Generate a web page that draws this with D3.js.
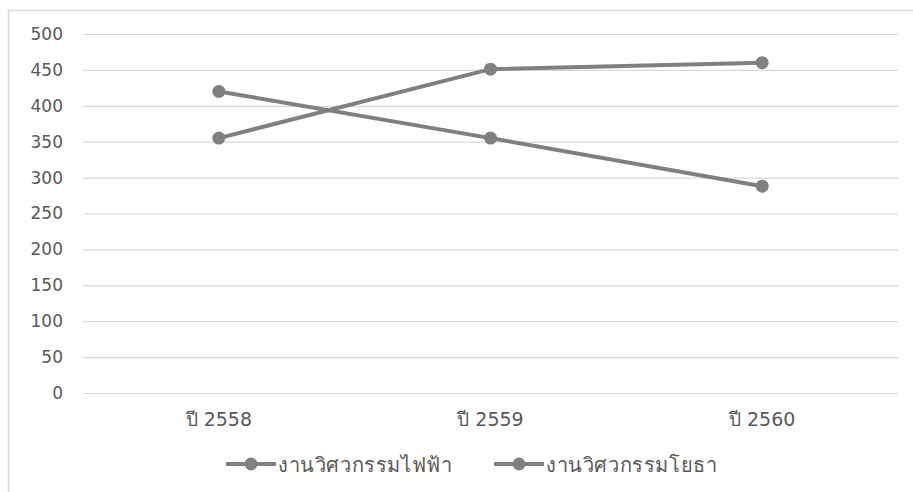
<!DOCTYPE html>
<html>
<head>
<meta charset="utf-8">
<script src="https://cdn.jsdelivr.net/npm/d3@7"></script>
<style>
  html, body { margin: 0; padding: 0; background: #fff; }
  svg { display: block; }
  text { font-family: "DejaVu Sans", "Noto Sans", sans-serif; fill: #595959; }
</style>
</head>
<body>
<svg id="chart" width="913" height="492"></svg>
<script>
// Chart data
const categories = ["ปี 2558", "ปี 2559", "ปี 2560"];
const seriesNames = ["งานวิศวกรรมไฟฟ้า", "งานวิศวกรรมโยธา"];
const electricalValues = [420, 355, 288];
const civilValues = [355, 451, 460];
const yTicks = [0, 50, 100, 150, 200, 250, 300, 350, 400, 450, 500];

const series = [
  { name: seriesNames[0], values: electricalValues },
  { name: seriesNames[1], values: civilValues }
];

const svg = d3.select("#chart");
const plot = { left: 83, right: 898, top: 34, bottom: 393 };
const lineColor = "#808080";
const fontStack = "'DejaVu Sans', 'Noto Sans', sans-serif";

// Outer chart frame (continues past the right and bottom edges)
svg.append("rect")
  .attr("x", 8.5).attr("y", 10.5)
  .attr("width", 1200).attr("height", 1200)
  .attr("fill", "none").attr("stroke", "#d9d9d9").attr("stroke-width", 1.5);

const x = d3.scaleBand().domain(categories).range([plot.left, plot.right]);
const y = d3.scaleLinear().domain([0, 500]).range([plot.bottom, plot.top]);

// Gridlines and y labels
const yAxis = d3.axisLeft(y).tickValues(yTicks).tickSize(-(plot.right - plot.left)).tickPadding(20);
const gy = svg.append("g").attr("transform", `translate(${plot.left},0)`).call(yAxis);
gy.select(".domain").remove();
gy.selectAll(".tick line").attr("stroke", "#d9d9d9").attr("stroke-width", 1.2);
gy.selectAll(".tick text")
  .attr("font-size", 17).attr("fill", "#595959")
  .style("font-family", fontStack);

// Category labels
const xAxis = d3.axisBottom(x).tickSize(0).tickPadding(20);
const gx = svg.append("g").attr("transform", `translate(0,${plot.bottom})`).call(xAxis);
gx.select(".domain").remove();
gx.selectAll(".tick text")
  .attr("font-size", 19).attr("fill", "#595959")
  .style("font-family", fontStack);

// Series lines with markers
const line = d3.line()
  .x((d, i) => x(categories[i]) + x.bandwidth() / 2)
  .y(d => y(d));

series.forEach(s => {
  svg.append("path")
    .attr("d", line(s.values))
    .attr("fill", "none")
    .attr("stroke", lineColor)
    .attr("stroke-width", 4)
    .attr("stroke-linejoin", "round");
  svg.selectAll(null)
    .data(s.values)
    .enter().append("circle")
    .attr("cx", (d, i) => x(categories[i]) + x.bandwidth() / 2)
    .attr("cy", d => y(d))
    .attr("r", 6.5)
    .attr("fill", lineColor);
});

// Legend
const legendY = 464;
const legendStarts = [226, 494];
series.forEach((s, i) => {
  const g = svg.append("g").attr("transform", `translate(${legendStarts[i]},${legendY})`);
  g.append("line").attr("x1", 0).attr("x2", 50).attr("y1", 0).attr("y2", 0)
    .attr("stroke", lineColor).attr("stroke-width", 4);
  g.append("circle").attr("cx", 25).attr("cy", 0).attr("r", 6.5).attr("fill", lineColor);
  g.append("text").attr("x", 52).attr("y", 8)
    .attr("font-size", 20).attr("letter-spacing", 0.6)
    .text(s.name);
});
</script>
</body>
</html>
